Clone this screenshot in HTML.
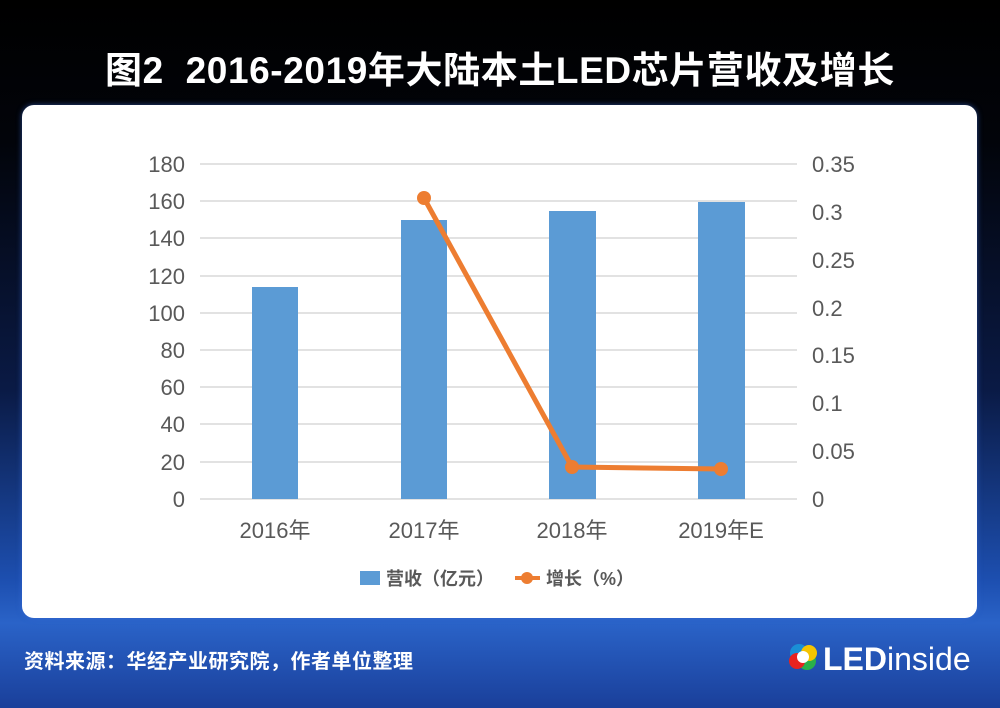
<!DOCTYPE html>
<html><head><meta charset="utf-8"><style>
html,body{margin:0;padding:0;}
body{width:1000px;height:708px;overflow:hidden;position:relative;font-family:"Liberation Sans","Noto Sans CJK SC",sans-serif;
background:linear-gradient(180deg,#000 0%,#02040a 20%,#0a1a45 55%,#1d4fb0 82%,#2a63c8 88%,#1a3f9a 100%);}
.panel{position:absolute;left:22px;top:105px;width:955px;height:513px;background:#fff;border-radius:12px;box-shadow:0 0 6px rgba(60,110,220,.6);}
.title{position:absolute;left:0;width:1000px;top:40px;text-align:center;color:#fff;font-weight:bold;font-size:37px;font-family:"Liberation Sans","Noto Sans CJK SC",sans-serif;letter-spacing:0.6px;}
.src{position:absolute;left:24px;top:645px;color:#fff;font-size:20px;font-weight:bold;letter-spacing:0.5px;}
</style></head><body>
<div class="title">图2&nbsp; 2016-2019年大陆本土LED芯片营收及增长</div>
<div class="panel"></div>
<svg style="position:absolute;left:0;top:0" width="1000" height="708">
<g stroke="#d9d9d9" stroke-width="1.5">
<line x1="200" x2="797" y1="164" y2="164"/><line x1="200" x2="797" y1="201" y2="201"/>
<line x1="200" x2="797" y1="238" y2="238"/><line x1="200" x2="797" y1="276" y2="276"/>
<line x1="200" x2="797" y1="313" y2="313"/><line x1="200" x2="797" y1="350" y2="350"/>
<line x1="200" x2="797" y1="387" y2="387"/><line x1="200" x2="797" y1="424" y2="424"/>
<line x1="200" x2="797" y1="462" y2="462"/><line x1="200" x2="797" y1="499" y2="499"/>
</g>
<g fill="#5b9bd5">
<rect x="252" y="287" width="46" height="212"/>
<rect x="401" y="220" width="46" height="279"/>
<rect x="549" y="211" width="47" height="288"/>
<rect x="698" y="202" width="47" height="297"/>
</g>
<polyline points="424,198 572,467 721,469" fill="none" stroke="#ed7d31" stroke-width="5"/>
<g fill="#ed7d31"><circle cx="424" cy="198" r="7"/><circle cx="572" cy="467" r="7"/><circle cx="721" cy="469" r="7"/></g>
<g fill="#595959" font-size="22" text-anchor="end">
<text x="185" y="172">180</text><text x="185" y="209">160</text><text x="185" y="246">140</text>
<text x="185" y="284">120</text><text x="185" y="321">100</text><text x="185" y="358">80</text>
<text x="185" y="395">60</text><text x="185" y="432">40</text><text x="185" y="470">20</text><text x="185" y="507">0</text>
</g>
<g fill="#595959" font-size="22">
<text x="812" y="172">0.35</text><text x="812" y="220">0.3</text><text x="812" y="268">0.25</text>
<text x="812" y="316">0.2</text><text x="812" y="363">0.15</text><text x="812" y="411">0.1</text>
<text x="812" y="459">0.05</text><text x="812" y="507">0</text>
</g>
<g fill="#595959" font-size="22" text-anchor="middle">
<text x="275" y="538">2016年</text><text x="424" y="538">2017年</text><text x="572" y="538">2018年</text><text x="721" y="538">2019年E</text>
</g>
<rect x="360" y="571" width="20" height="14" fill="#5b9bd5"/>
<text x="386" y="585" fill="#595959" font-size="18" font-weight="bold">营收（亿元）</text>
<line x1="515" x2="540" y1="578" y2="578" stroke="#ed7d31" stroke-width="4"/>
<circle cx="527" cy="578" r="6" fill="#ed7d31"/>
<text x="546" y="585" fill="#595959" font-size="18" font-weight="bold">增长（%）</text>
<g transform="translate(803,657)">
<circle cx="-4" cy="-4" r="9" fill="#1a8fd6"/><circle cx="4" cy="4" r="9" fill="#2ab04a"/>
<circle cx="-6" cy="4" r="8" fill="#e8231f"/><circle cx="6" cy="-4" r="8" fill="#f5c400"/>
<circle cx="0" cy="0" r="6" fill="#fff"/>
</g>
<text x="823" y="670" fill="#fff" font-size="32"><tspan font-weight="bold">LED</tspan>inside</text>
</svg>
<div class="src">资料来源：华经产业研究院，作者单位整理</div>
</body></html>
